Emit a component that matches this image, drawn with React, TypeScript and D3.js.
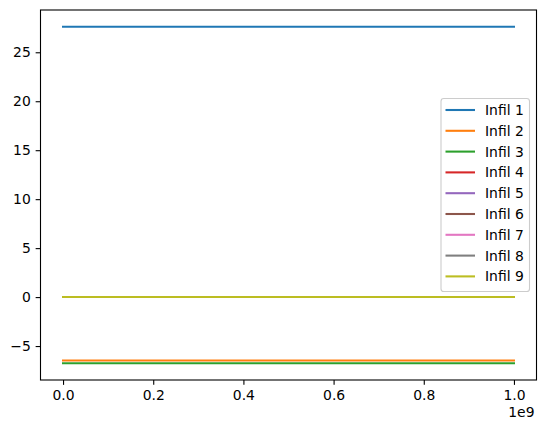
import React, { useRef, useEffect } from "react";
import * as d3 from "d3";

// data
const xValues = [0, 1e9];
const seriesNames = ["Infil 1", "Infil 2", "Infil 3", "Infil 4", "Infil 5", "Infil 6", "Infil 7", "Infil 8", "Infil 9"];
const seriesLevels = [27.6, -6.47, -6.75, 0, 0, 0, 0, 0, 0];
const colors = ["#1f77b4", "#ff7f0e", "#2ca02c", "#d62728", "#9467bd", "#8c564b", "#e377c2", "#7f7f7f", "#bcbd22"];
const xTicks = [0, 0.2e9, 0.4e9, 0.6e9, 0.8e9, 1e9];
const yTicks = [-5, 0, 5, 10, 15, 20, 25];

const App = () => {
  const svgRef = useRef<SVGSVGElement>(null);

  useEffect(() => {
    document.body.style.margin = "0";
    const width = 546;
    const height = 431;
    const left = 40.5, right = 536.5, top = 10, bottom = 380;

    const svg = d3.select(svgRef.current)
      .attr("width", width)
      .attr("height", height);
    svg.selectAll("*").remove();

    const ymin = d3.min(seriesLevels) as number;
    const ymax = d3.max(seriesLevels) as number;
    const ypad = (ymax - ymin) * 0.05;
    const xpad = (xValues[1] - xValues[0]) * 0.05;

    const xScale = d3.scaleLinear()
      .domain([xValues[0] - xpad, xValues[1] + xpad])
      .range([left, right]);
    const yScale = d3.scaleLinear()
      .domain([ymin - ypad, ymax + ypad])
      .range([bottom, top]);

    const font = "DejaVu Sans, sans-serif";

    // lines
    const line = d3.line<number>()
      .x((d, i) => xScale(xValues[i]))
      .y(d => yScale(d));
    const lineGroup = svg.append("g");
    seriesLevels.forEach((lvl, i) => {
      lineGroup.append("path")
        .attr("d", line(xValues.map(() => lvl)))
        .attr("fill", "none")
        .attr("stroke", colors[i])
        .attr("stroke-width", 2.08)
        .attr("stroke-linecap", "square");
    });

    // axes
    const xAxis = d3.axisBottom(xScale)
      .tickValues(xTicks)
      .tickSize(4.86)
      .tickPadding(4.86)
      .tickFormat(d => (Number(d) / 1e9).toFixed(1));
    const gx = svg.append("g")
      .attr("transform", "translate(0," + bottom + ")")
      .call(xAxis);

    const yAxis = d3.axisLeft(yScale)
      .tickValues(yTicks)
      .tickSize(4.86)
      .tickPadding(4.86)
      .tickFormat(d => (Number(d) < 0 ? "\u2212" + Math.abs(Number(d)) : String(d)));
    const gy = svg.append("g")
      .attr("transform", "translate(" + left + ",0)")
      .call(yAxis);

    [gx, gy].forEach(g => {
      g.select(".domain").remove();
      g.selectAll(".tick line").attr("stroke", "#000").attr("stroke-width", 1.1);
      g.selectAll(".tick text")
        .attr("fill", "#000")
        .style("font-family", font)
        .style("font-size", "13.9px");
    });

    // frame
    svg.append("rect")
      .attr("x", left)
      .attr("y", top)
      .attr("width", right - left)
      .attr("height", bottom - top)
      .attr("fill", "none")
      .attr("stroke", "#000")
      .attr("stroke-width", 1.1);

    // offset text
    svg.append("text")
      .attr("x", 534.5)
      .attr("y", 416.5)
      .attr("text-anchor", "end")
      .style("font-family", font)
      .style("font-size", "13.9px")
      .text("1e9");

    // legend
    const lx = 441, ly = 98.5, lw = 88.5, lh = 193;
    const legend = svg.append("g");
    legend.append("rect")
      .attr("x", lx)
      .attr("y", ly)
      .attr("width", lw)
      .attr("height", lh)
      .attr("rx", 2.8)
      .attr("fill", "white")
      .attr("fill-opacity", 0.8)
      .attr("stroke", "#cccccc")
      .attr("stroke-width", 1.1);
    seriesNames.forEach((name, i) => {
      const yy = 110 + i * 20.8;
      legend.append("line")
        .attr("x1", 445.5)
        .attr("x2", 475)
        .attr("y1", yy)
        .attr("y2", yy)
        .attr("stroke", colors[i])
        .attr("stroke-width", 2.08);
      legend.append("text")
        .attr("x", 485)
        .attr("y", yy)
        .attr("dy", "0.36em")
        .style("font-family", font)
        .style("font-size", "13.9px")
        .text(name);
    });
  }, []);

  return <svg ref={svgRef}></svg>;
};

export default App;
